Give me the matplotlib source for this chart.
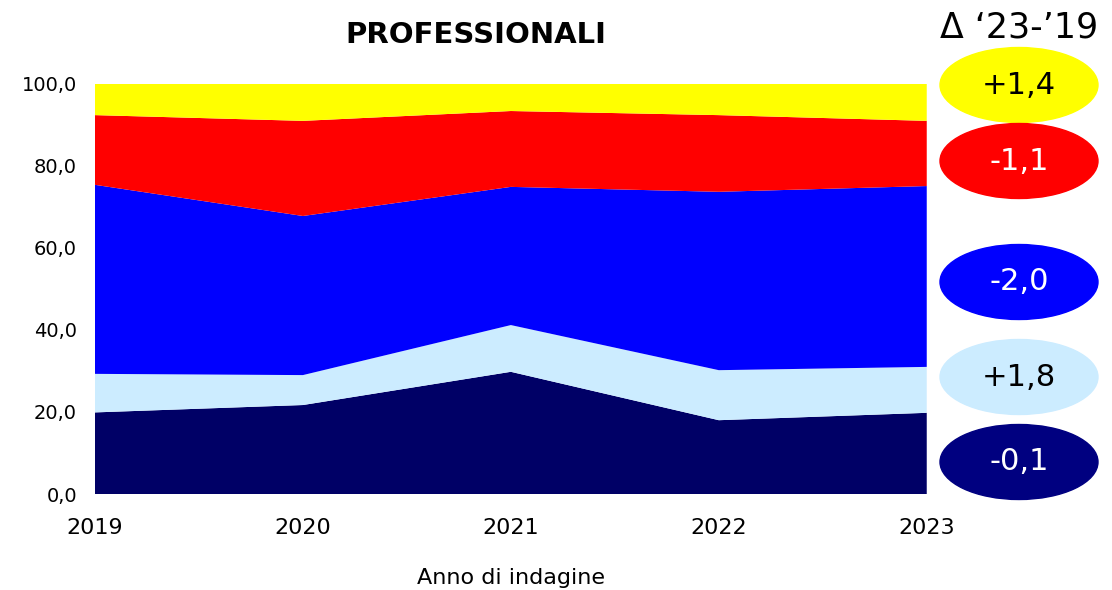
import matplotlib.pyplot as plt
from matplotlib.patches import Ellipse

years = [2019, 2020, 2021, 2022, 2023]
# layer thicknesses (percent), bottom to top
navy = [19.9, 21.7, 29.8, 18.0, 19.8]
light_blue = [9.4, 7.3, 11.4, 12.2, 11.2]
blue = [46.1, 38.8, 33.7, 43.5, 44.1]
red = [17.0, 23.2, 18.5, 18.7, 15.9]
yellow = [7.6, 9.0, 6.6, 7.6, 9.0]

deltas = ["+1,4", "-1,1", "-2,0", "+1,8", "-0,1"]
layer_colors = ["#000066", "#CCECFF", "#0000FF", "#FF0000", "#FFFF00"]
badge_colors = ["#FFFF00", "#FF0000", "#0000FF", "#CCECFF", "#000080"]
badge_text_colors = ["black", "white", "white", "black", "white"]
badge_y = [85, 161, 282, 377, 462]  # pixel rows

fig = plt.figure(figsize=(11.12, 5.9), dpi=100)
ax = fig.add_axes([0.0854, 0.1627, 0.748, 0.695])

ax.stackplot(years, navy, light_blue, blue, red, yellow,
             colors=layer_colors, linewidth=0)
ax.set_xlim(2019, 2023)
ax.set_ylim(0, 100)
ax.set_xticks(years)
ax.set_xticklabels([str(y) for y in years], fontsize=16)
ax.set_yticks(range(0, 101, 20))
ax.set_yticklabels([f"{v:.1f}".replace(".", ",") for v in range(0, 101, 20)], fontsize=14)
ax.tick_params(axis="x", length=0, pad=17)
ax.tick_params(axis="y", length=0, pad=13)
for s in ax.spines.values():
    s.set_visible(False)
ax.set_xlabel("Anno di indagine", fontsize=16, labelpad=22)

fig.text(0.428, 0.94, "PROFESSIONALI", fontsize=21, fontweight="bold",
         ha="center", va="center")

# overlay in pixel coords for the delta badges
ov = fig.add_axes([0, 0, 1, 1])
ov.set_xlim(0, 1112)
ov.set_ylim(590, 0)
ov.axis("off")
ov.text(1019, 27, "Δ ‘23-’19", fontsize=25, ha="center", va="center")
for d, c, tc, y in zip(deltas, badge_colors, badge_text_colors, badge_y):
    ov.add_patch(Ellipse((1019, y), 158, 75, color=c))
    ov.text(1019, y, d, fontsize=22, ha="center", va="center", color=tc)

fig.savefig("out.png")
